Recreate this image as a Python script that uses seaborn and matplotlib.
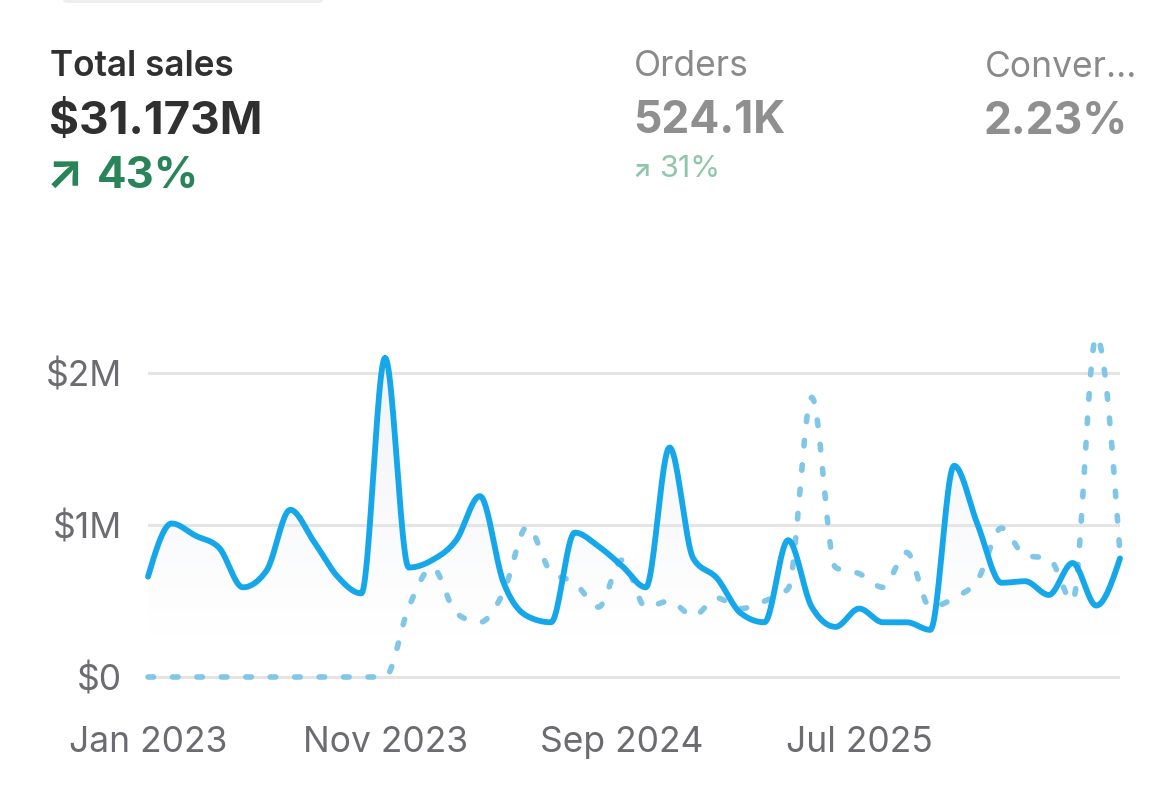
import numpy as np
import pandas as pd
import seaborn as sns
import matplotlib.pyplot as plt
from matplotlib.patches import FancyBboxPatch

# monthly data, Jan 2023 .. Jun 2026 (values in $M)
months = pd.date_range("2023-01-01", periods=42, freq="MS")
sales_current = [0.66, 1.01, 0.93, 0.85, 0.59, 0.70, 1.10, 0.89, 0.66, 0.55,
                 2.10, 0.72, 0.77, 0.90, 1.19, 0.62, 0.40, 0.36, 0.95, 0.86,
                 0.73, 0.59, 1.51, 0.78, 0.65, 0.42, 0.36, 0.90, 0.46, 0.33,
                 0.45, 0.36, 0.36, 0.31, 1.39, 1.00, 0.62, 0.63, 0.54, 0.75,
                 0.47, 0.78]
sales_previous = [0, 0, 0, 0, 0, 0, 0, 0, 0, 0,
                  0.0, 0.46, 0.72, 0.42, 0.36, 0.56, 0.99, 0.69, 0.62, 0.46,
                  0.77, 0.46, 0.50, 0.40, 0.52, 0.45, 0.50, 0.58, 1.84, 0.72,
                  0.68, 0.59, 0.82, 0.46, 0.52, 0.64, 0.98, 0.80, 0.78, 0.50,
                  2.24, 0.81]
y_ticks = [0, 1, 2]
y_tick_labels = ["$0", "$1M", "$2M"]
x_tick_idx = [0, 10, 20, 30]


def monotone_curve(y, n=24):
    # d3-style monotoneX curve through evenly spaced points
    y = np.asarray(y, float)
    x = np.arange(len(y), dtype=float)
    s = np.diff(y)
    m = np.zeros_like(y)
    for i in range(1, len(y) - 1):
        s0, s1 = s[i - 1], s[i]
        p = (s0 + s1) / 2
        m[i] = (np.sign(s0) + np.sign(s1)) * min(abs(s0), abs(s1), 0.5 * abs(p))
    m[0] = (3 * s[0] - m[1]) / 2
    m[-1] = (3 * s[-1] - m[-2]) / 2
    xs, ys = [], []
    t = np.linspace(0, 1, n, endpoint=False)
    for i in range(len(y) - 1):
        h00 = 2 * t**3 - 3 * t**2 + 1
        h10 = t**3 - 2 * t**2 + t
        h01 = -2 * t**3 + 3 * t**2
        h11 = t**3 - t**2
        xs.append(x[i] + t)
        ys.append(h00 * y[i] + h10 * m[i] + h01 * y[i + 1] + h11 * m[i + 1])
    xs.append([x[-1]])
    ys.append([y[-1]])
    return np.concatenate(xs), np.concatenate(ys)


sns.set_style("white")
plt.rcParams["font.family"] = ["Inter", "DejaVu Sans"]

W, H = 1170, 795
fig = plt.figure(figsize=(W / 100, H / 100), dpi=100)
fig.patch.set_facecolor("white")


def px(x, y):
    return x / W, 1 - y / H


ax = fig.add_axes([148 / W, 1 - 690 / H, (1120 - 148) / W, (690 - 330) / H])

xc, yc = monotone_curve(sales_current)
xp, yp = monotone_curve(sales_previous)
df_cur = pd.DataFrame({"x": xc, "y": yc})
df_prev = pd.DataFrame({"x": xp, "y": yp})

# light gradient under the current line
poly = ax.fill_between(xc, yc, 0, color="none", lw=0)
grad = np.linspace(0, 1, 256).reshape(-1, 1)
rgba = np.zeros((256, 1, 4))
rgba[..., :3] = np.array([0.91, 0.92, 0.95])
rgba[..., 3] = np.clip((grad - 0.12) / 0.88, 0, 1) * 0.6
img = ax.imshow(rgba, extent=[0, 41, 0, 2.2], origin="lower", aspect="auto", zorder=1)
img.set_clip_path(poly.get_paths()[0], transform=ax.transData)

for yv in y_ticks:
    ax.axhline(yv, color="#e4e4e4", lw=2.2, zorder=0.5)

sns.lineplot(data=df_prev, x="x", y="y", ax=ax, color="#80c6e6", lw=4.0,
             zorder=3, clip_on=False)
ax.lines[-1].set_linestyle((0, (1.0, 3.4)))
ax.lines[-1].set_dash_capstyle("round")
sns.lineplot(data=df_cur, x="x", y="y", ax=ax, color="#16a7ea", lw=4.2,
             zorder=4, clip_on=False)
ax.lines[-1].set_solid_capstyle("round")
ax.lines[-1].set_solid_joinstyle("round")

ax.set_xlim(0, 41)
ax.set_ylim(-13 / 152, 347 / 152)
ax.set_xlabel("")
ax.set_ylabel("")
ax.set_yticks(y_ticks)
ax.set_yticklabels(y_tick_labels)
ax.set_xticks(x_tick_idx)
ax.set_xticklabels([months[i].strftime("%b %Y") for i in x_tick_idx])
ax.tick_params(axis="y", length=0, pad=19, labelsize=25.5, labelcolor="#6b6b70")
ax.tick_params(axis="x", length=0, pad=26, labelsize=25.5, labelcolor="#6b6b70")
for s in ax.spines.values():
    s.set_visible(False)
ax.set_facecolor("none")

# header metrics
fig.text(*px(50, 76), "Total sales", fontsize=25.3, fontweight="semibold", color="#303030", va="baseline")
fig.text(*px(49, 134), "$31.173M", fontsize=33, fontweight="bold", color="#303030", va="baseline")
fig.text(*px(46, 188), "\u2197", fontsize=35, fontweight="bold", color="#29845a", va="baseline")
fig.text(*px(97, 188), "43%", fontsize=31.5, fontweight="bold", color="#29845a", va="baseline")

fig.text(*px(634, 76), "Orders", fontsize=25.5, color="#8a8a8a", va="baseline")
fig.text(*px(633, 133), "524.1K", fontsize=32, fontweight="bold", color="#8f8f8f", va="baseline")
fig.text(*px(632, 177), "\u2197", fontsize=17, fontweight="bold", color="#8fc6ab", va="baseline")
fig.text(*px(659, 177), "31%", fontsize=22, color="#8fc6ab", va="baseline")

fig.text(*px(985, 77), "Conver...", fontsize=25.5, color="#8a8a8a", va="baseline")
fig.text(*px(984, 134), "2.23%", fontsize=32, fontweight="bold", color="#8f8f8f", va="baseline")

# faint tab shadow at top
fig.patches.append(FancyBboxPatch((63 / W, 1 - 3 / H), 260 / W, 10 / H,
                                  boxstyle="round,pad=0,rounding_size=0.004",
                                  transform=fig.transFigure, fc="#eeeeee", ec="none"))

fig.savefig("out.png", dpi=100, facecolor="white")
